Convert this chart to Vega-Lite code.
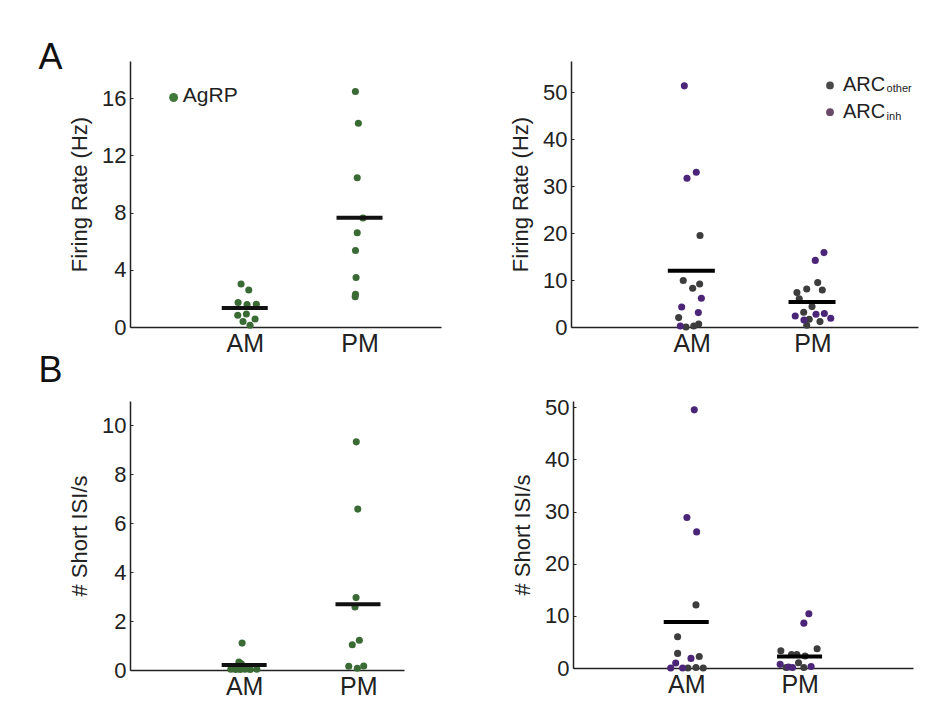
{
  "$schema": "https://vega.github.io/schema/vega-lite/v6.json",
  "padding": {"left": 38, "top": 39, "right": 5, "bottom": 5},
  "background": "white",
  "config": {
    "font": "Liberation Sans",
    "view": {"stroke": null},
    "axis": {"grid": false, "domainColor": "#222", "domainWidth": 1.5, "labelColor": "#222", "titleColor": "#222", "tickColor": "#222", "titleFontWeight": "normal", "labelFont": "Liberation Sans", "titleFont": "Liberation Sans"},
    "axisX": {"ticks": false, "labelFontSize": 25, "labelPadding": 4, "title": null},
    "axisY": {"labelFontSize": 22, "titleFontSize": 22, "tickSize": -3, "labelPadding": 7, "titlePadding": 10},
    "title": {"fontWeight": "normal", "color": "#111", "fontSize": 36, "anchor": "start", "baseline": "alphabetic"},
    "concat": {"spacing": 0}
  },
  "datasets": {
    "tl": [
      {"x": 0.968, "v": 3.01, "g": "AgRP"}, {"x": 1.035, "v": 2.59, "g": "AgRP"}, {"x": 0.942, "v": 1.71, "g": "AgRP"},
      {"x": 1.020, "v": 1.57, "g": "AgRP"}, {"x": 1.101, "v": 1.59, "g": "AgRP"}, {"x": 0.939, "v": 0.82, "g": "AgRP"},
      {"x": 1.014, "v": 0.91, "g": "AgRP"}, {"x": 1.090, "v": 0.56, "g": "AgRP"}, {"x": 0.985, "v": 0.38, "g": "AgRP"},
      {"x": 1.046, "v": 0.12, "g": "AgRP"},
      {"x": 1.964, "v": 16.47, "g": "AgRP"}, {"x": 1.990, "v": 14.25, "g": "AgRP"}, {"x": 1.980, "v": 10.44, "g": "AgRP"},
      {"x": 2.030, "v": 7.62, "g": "AgRP"}, {"x": 1.980, "v": 6.59, "g": "AgRP"}, {"x": 1.965, "v": 5.35, "g": "AgRP"},
      {"x": 1.970, "v": 3.46, "g": "AgRP"}, {"x": 1.965, "v": 2.28, "g": "AgRP"}, {"x": 1.962, "v": 2.12, "g": "AgRP"}
    ],
    "tl_mean": [{"x": 1.0, "m": 1.33}, {"x": 2.0, "m": 7.64}],
    "tr": [
      {"x": 1.069, "v": 19.5, "g": "other"}, {"x": 0.930, "v": 9.9, "g": "other"}, {"x": 1.008, "v": 8.25, "g": "other"},
      {"x": 1.066, "v": 9.17, "g": "other"}, {"x": 0.892, "v": 2.0, "g": "other"}, {"x": 0.953, "v": 0.0, "g": "other"},
      {"x": 1.017, "v": 0.21, "g": "other"}, {"x": 1.058, "v": 0.64, "g": "other"},
      {"x": 0.939, "v": 51.4, "g": "inh"}, {"x": 0.961, "v": 31.7, "g": "inh"}, {"x": 1.038, "v": 33.0, "g": "inh"},
      {"x": 1.080, "v": 6.12, "g": "inh"}, {"x": 0.917, "v": 4.26, "g": "inh"}, {"x": 1.055, "v": 3.07, "g": "inh"},
      {"x": 0.906, "v": 0.21, "g": "inh"},
      {"x": 2.044, "v": 9.46, "g": "other"}, {"x": 1.953, "v": 8.1, "g": "other"}, {"x": 2.082, "v": 7.9, "g": "other"},
      {"x": 1.872, "v": 7.33, "g": "other"}, {"x": 1.891, "v": 6.0, "g": "other"}, {"x": 1.997, "v": 4.35, "g": "other"},
      {"x": 1.928, "v": 3.13, "g": "other"}, {"x": 1.974, "v": 1.64, "g": "other"}, {"x": 1.953, "v": 0.36, "g": "other"},
      {"x": 2.063, "v": 1.15, "g": "other"},
      {"x": 2.096, "v": 15.86, "g": "inh"}, {"x": 2.024, "v": 14.2, "g": "inh"}, {"x": 1.858, "v": 2.35, "g": "inh"},
      {"x": 1.930, "v": 1.5, "g": "inh"}, {"x": 2.030, "v": 2.71, "g": "inh"}, {"x": 2.099, "v": 2.86, "g": "inh"},
      {"x": 2.152, "v": 1.86, "g": "inh"}
    ],
    "tr_mean": [{"x": 0.997, "m": 12.0}, {"x": 1.997, "m": 5.33}],
    "bl": [
      {"x": 0.982, "v": 1.10, "g": "AgRP"}, {"x": 0.954, "v": 0.33, "g": "AgRP"}, {"x": 0.975, "v": 0.25, "g": "AgRP"},
      {"x": 0.883, "v": 0.03, "g": "AgRP"}, {"x": 0.925, "v": 0.02, "g": "AgRP"}, {"x": 1.006, "v": 0.03, "g": "AgRP"},
      {"x": 1.053, "v": 0.02, "g": "AgRP"}, {"x": 1.111, "v": 0.03, "g": "AgRP"}, {"x": 0.965, "v": 0.02, "g": "AgRP"},
      {"x": 1.030, "v": 0.05, "g": "AgRP"},
      {"x": 1.982, "v": 9.33, "g": "AgRP"}, {"x": 1.995, "v": 6.58, "g": "AgRP"}, {"x": 1.980, "v": 2.96, "g": "AgRP"},
      {"x": 1.971, "v": 2.58, "g": "AgRP"}, {"x": 2.009, "v": 1.22, "g": "AgRP"}, {"x": 1.947, "v": 1.03, "g": "AgRP"},
      {"x": 1.916, "v": 0.15, "g": "AgRP"}, {"x": 1.991, "v": 0.07, "g": "AgRP"}, {"x": 2.047, "v": 0.16, "g": "AgRP"}
    ],
    "bl_mean": [{"x": 1.0, "m": 0.2}, {"x": 1.997, "m": 2.69}],
    "br": [
      {"x": 1.085, "v": 12.1, "g": "other"}, {"x": 0.923, "v": 6.0, "g": "other"}, {"x": 0.923, "v": 2.8, "g": "other"},
      {"x": 1.114, "v": 2.2, "g": "other"}, {"x": 1.014, "v": 0.0, "g": "other"}, {"x": 1.085, "v": 0.1, "g": "other"},
      {"x": 1.149, "v": 0.0, "g": "other"},
      {"x": 1.070, "v": 49.5, "g": "inh"}, {"x": 1.005, "v": 28.85, "g": "inh"}, {"x": 1.091, "v": 26.1, "g": "inh"},
      {"x": 1.041, "v": 1.84, "g": "inh"}, {"x": 0.906, "v": 0.96, "g": "inh"}, {"x": 0.862, "v": 0.0, "g": "inh"},
      {"x": 0.967, "v": 0.0, "g": "inh"},
      {"x": 1.834, "v": 3.3, "g": "other"}, {"x": 2.154, "v": 3.7, "g": "other"}, {"x": 1.928, "v": 2.6, "g": "other"},
      {"x": 1.975, "v": 2.6, "g": "other"}, {"x": 2.048, "v": 2.3, "g": "other"}, {"x": 1.881, "v": 0.1, "g": "other"},
      {"x": 1.990, "v": 1.0, "g": "other"}, {"x": 2.037, "v": 0.1, "g": "other"},
      {"x": 2.081, "v": 10.4, "g": "inh"}, {"x": 2.037, "v": 8.6, "g": "inh"}, {"x": 1.828, "v": 0.7, "g": "inh"},
      {"x": 1.902, "v": 0.2, "g": "inh"}, {"x": 1.937, "v": 0.1, "g": "inh"}, {"x": 2.101, "v": 0.3, "g": "inh"}
    ],
    "br_mean": [{"x": 0.999, "m": 8.8}, {"x": 1.999, "m": 2.2}]
  },
  "vconcat": [
    {
      "hconcat": [
        {
          "width": 311, "height": 266,
          "title": {"text": "A", "dx": -30, "offset": 0, "dy": 15.5},
          "layer": [
            {"data": {"name": "tl"}, "mark": {"type": "circle", "size": 50, "opacity": 1},
             "encoding": {
               "x": {"field": "x", "type": "quantitative", "scale": {"domain": [0, 2.71], "nice": false, "zero": false},
                     "axis": {"values": [1, 2], "labelExpr": "datum.value == 1 ? 'AM' : 'PM'"}},
               "y": {"field": "v", "type": "quantitative", "scale": {"domain": [0, 18.6], "nice": false},
                     "axis": {"values": [0, 4, 8, 12, 16], "title": "Firing Rate (Hz)"}},
               "color": {"field": "g", "type": "nominal", "scale": {"domain": ["AgRP", "other", "inh"], "range": ["#3b6b35", "#3d3d3d", "#4b2678"]}, "legend": null}}},
            {"data": {"name": "tl_mean"}, "mark": {"type": "tick", "orient": "horizontal", "size": 46, "thickness": 4, "color": "#111", "opacity": 1},
             "encoding": {"x": {"field": "x", "type": "quantitative"}, "y": {"field": "m", "type": "quantitative"}}},
            {"data": {"values": [{"x": 0.38, "v": 16.05}]}, "mark": {"type": "circle", "size": 80, "opacity": 1, "color": "#3f7a3a"},
             "encoding": {"x": {"field": "x", "type": "quantitative"}, "y": {"field": "v", "type": "quantitative"}}},
            {"data": {"values": [{"x": 0.46, "v": 15.73, "t": "AgRP"}]}, "mark": {"type": "text", "align": "left", "baseline": "alphabetic", "fontSize": 21, "color": "#222"},
             "encoding": {"x": {"field": "x", "type": "quantitative"}, "y": {"field": "v", "type": "quantitative"}, "text": {"field": "t"}}}
          ]
        },
        {
          "width": 347, "height": 266,
          "title": {"text": " ", "offset": 0, "dy": 15.5},
          "layer": [
            {"data": {"name": "tr"}, "mark": {"type": "circle", "size": 50, "opacity": 1},
             "encoding": {
               "x": {"field": "x", "type": "quantitative", "scale": {"domain": [0, 2.875], "nice": false, "zero": false},
                     "axis": {"values": [1, 2], "labelExpr": "datum.value == 1 ? 'AM' : 'PM'"}},
               "y": {"field": "v", "type": "quantitative", "scale": {"domain": [0, 56.7], "nice": false},
                     "axis": {"values": [0, 10, 20, 30, 40, 50], "title": "Firing Rate (Hz)"}},
               "color": {"field": "g", "type": "nominal", "scale": {"domain": ["AgRP", "other", "inh"], "range": ["#3b6b35", "#3d3d3d", "#4b2678"]}, "legend": null}}},
            {"data": {"name": "tr_mean"}, "mark": {"type": "tick", "orient": "horizontal", "size": 47, "thickness": 4, "color": "#000", "opacity": 1},
             "encoding": {"x": {"field": "x", "type": "quantitative"}, "y": {"field": "m", "type": "quantitative"}}},
            {"data": {"values": [{"x": 2.146, "v": 51.5}]}, "mark": {"type": "circle", "size": 60, "opacity": 1, "color": "#4a4a4a"},
             "encoding": {"x": {"field": "x", "type": "quantitative"}, "y": {"field": "v", "type": "quantitative"}}},
            {"data": {"values": [{"x": 2.146, "v": 45.8}]}, "mark": {"type": "circle", "size": 60, "opacity": 1, "color": "#6a4868"},
             "encoding": {"x": {"field": "x", "type": "quantitative"}, "y": {"field": "v", "type": "quantitative"}}},
            {"data": {"values": [{"x": 2.253, "v": 50.3, "t": "ARC"}, {"x": 2.253, "v": 44.65, "t": "ARC"}]}, "mark": {"type": "text", "align": "left", "baseline": "alphabetic", "fontSize": 20, "color": "#222"},
             "encoding": {"x": {"field": "x", "type": "quantitative"}, "y": {"field": "v", "type": "quantitative"}, "text": {"field": "t"}}},
            {"data": {"values": [{"x": 2.615, "v": 50.0, "t": "other"}, {"x": 2.615, "v": 44.2, "t": "inh"}]}, "mark": {"type": "text", "align": "left", "baseline": "alphabetic", "fontSize": 11, "color": "#222"},
             "encoding": {"x": {"field": "x", "type": "quantitative"}, "y": {"field": "v", "type": "quantitative"}, "text": {"field": "t"}}}
          ]
        }
      ],
      "spacing": 68
    },
    {
      "hconcat": [
        {
          "width": 274, "height": 269,
          "title": {"text": "B", "dx": -30, "offset": 11, "dy": 0},
          "layer": [
            {"data": {"name": "bl"}, "mark": {"type": "circle", "size": 50, "opacity": 1},
             "encoding": {
               "x": {"field": "x", "type": "quantitative", "scale": {"domain": [0, 2.4], "nice": false, "zero": false},
                     "axis": {"values": [1, 2], "labelExpr": "datum.value == 1 ? 'AM' : 'PM'"}},
               "y": {"field": "v", "type": "quantitative", "scale": {"domain": [0, 11], "nice": false},
                     "axis": {"values": [0, 2, 4, 6, 8, 10], "title": "# Short ISI/s"}},
               "color": {"field": "g", "type": "nominal", "scale": {"domain": ["AgRP", "other", "inh"], "range": ["#3b6b35", "#3d3d3d", "#4b2678"]}, "legend": null}}},
            {"data": {"name": "bl_mean"}, "mark": {"type": "tick", "orient": "horizontal", "size": 45, "thickness": 4, "color": "#111", "opacity": 1},
             "encoding": {"x": {"field": "x", "type": "quantitative"}, "y": {"field": "m", "type": "quantitative"}}}
          ]
        },
        {
          "width": 340, "height": 267,
          "title": {"text": " ", "offset": 11, "dy": 0},
          "layer": [
            {"data": {"name": "br"}, "mark": {"type": "circle", "size": 50, "opacity": 1},
             "encoding": {
               "x": {"field": "x", "type": "quantitative", "scale": {"domain": [0, 3], "nice": false, "zero": false},
                     "axis": {"values": [1, 2], "labelExpr": "datum.value == 1 ? 'AM' : 'PM'"}},
               "y": {"field": "v", "type": "quantitative", "scale": {"domain": [0, 51.2], "nice": false},
                     "axis": {"values": [0, 10, 20, 30, 40, 50], "title": "# Short ISI/s"}},
               "color": {"field": "g", "type": "nominal", "scale": {"domain": ["AgRP", "other", "inh"], "range": ["#3b6b35", "#3d3d3d", "#4b2678"]}, "legend": null}}},
            {"data": {"name": "br_mean"}, "mark": {"type": "tick", "orient": "horizontal", "size": 45, "thickness": 4, "color": "#000", "opacity": 1},
             "encoding": {"x": {"field": "x", "type": "quantitative"}, "y": {"field": "m", "type": "quantitative"}}}
          ]
        }
      ],
      "spacing": 107
    }
  ],
  "spacing": -8
}
